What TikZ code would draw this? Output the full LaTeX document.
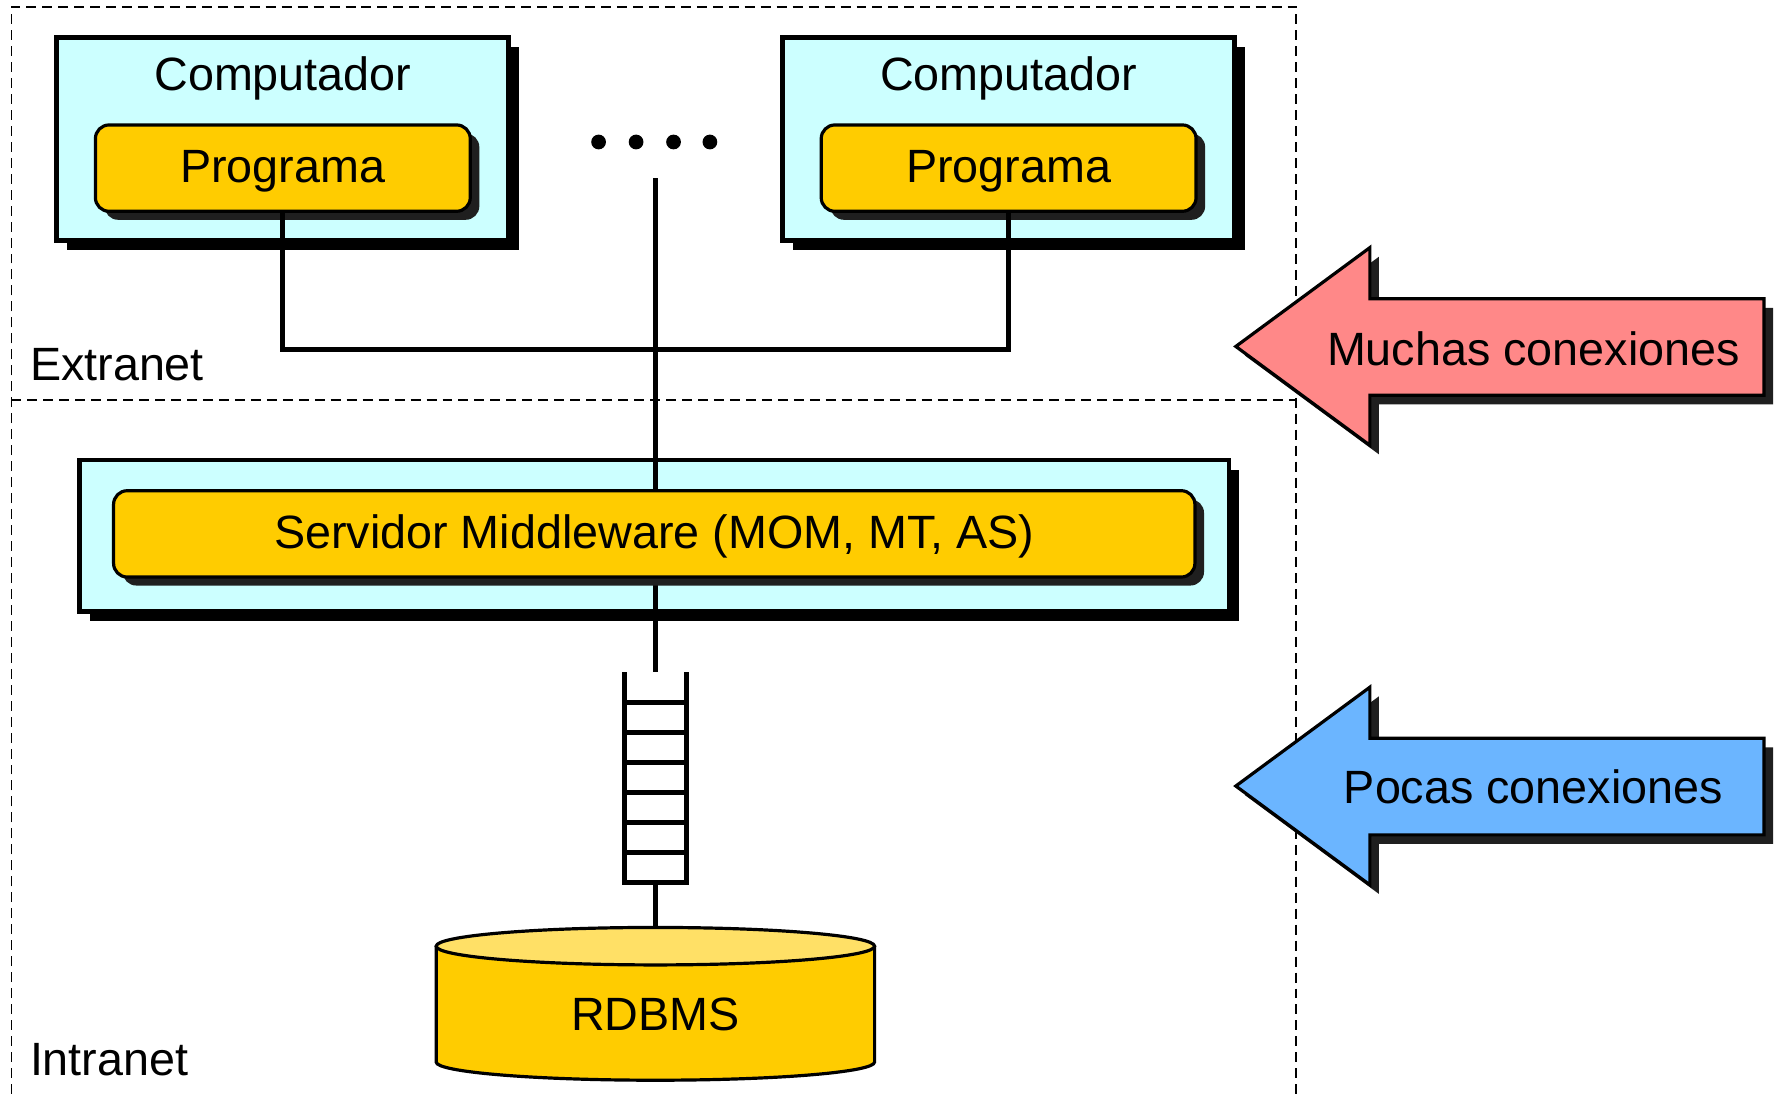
\documentclass[tikz,border=0pt]{standalone}
\usepackage{fontspec}
\setmainfont{Liberation Sans}
\usetikzlibrary{shadows}
\definecolor{boxcyan}{HTML}{CCFFFF}
\definecolor{progyellow}{HTML}{FFCC00}
\definecolor{toplight}{HTML}{FFE066}
\definecolor{arrowred}{HTML}{FF8888}
\definecolor{arrowblue}{HTML}{6BB5FF}

\begin{document}
\begin{tikzpicture}[line join=miter,
        font=\fontsize{11.7}{14}\selectfont,
        wire/.style={line width=1.25pt},
        zone/.style={line width=0.4pt, dash pattern=on 2.5pt off 1.5pt},
        captext/.style={text height=0.72em, text depth=0pt},
        compbox/.style={draw, line width=1.2pt, fill=boxcyan, minimum width=3.98cm, minimum height=1.79cm,
            drop shadow={shadow xshift=0.09cm, shadow yshift=-0.085cm, fill=black, opacity=1}},
        progbox/.style={draw, captext, line width=0.8pt, fill=progyellow, rounded corners=0.12cm,
            minimum width=3.30cm, minimum height=0.76cm,
            drop shadow={shadow xshift=0.08cm, shadow yshift=-0.075cm, fill=black!88, opacity=1}},
        fatarrow/.style={draw, line width=0.8pt,
            drop shadow={shadow xshift=0.08cm, shadow yshift=-0.08cm, fill=black!88, opacity=1}}]
    \useasboundingbox (0,0) rectangle (15.68,-9.63);

    % extranet / intranet zones
    \draw[zone] (0.10,-9.63) -- (0.10,-0.06) -- (11.41,-0.06) -- (11.41,-9.63);
    \draw[zone] (0.10,-3.52) -- (11.41,-3.52);
    \node[anchor=west] (extra) at (0.14,-3.21) {Extranet};
    \node[anchor=west] (intra) at (0.14,-9.33) {Intranet};

    % computers with their programs
    \node[compbox] (comp1) at (2.49,-1.225) {};
    \node[captext] (comp1txt) at (2.49,-0.67) {Computador};
    \node[progbox] (prog1) at (2.49,-1.48) {Programa};

    \node[compbox] (comp2) at (8.88,-1.225) {};
    \node[captext] (comp2txt) at (8.88,-0.67) {Computador};
    \node[progbox] (prog2) at (8.88,-1.48) {Programa};

    % more computers
    \foreach \x in {5.27,5.60,5.93,6.25}
        \fill (\x,-1.25) circle (0.065cm);

    % connections to the middleware
    \coordinate (bus) at (5.77,-3.08);
    \coordinate (trunk) at (5.77,-1.57);
    \coordinate (qtop) at (5.77,-5.92);
    \draw[wire] (prog1.south) -- (prog1.south |- bus) -- (prog2.south |- bus) -- (prog2.south);

    % middleware server
    \node[compbox, minimum width=10.12cm, minimum height=1.33cm] (mwbox) at (5.76,-4.715) {};
    \draw[wire] (trunk) -- (qtop);
    \node[progbox, minimum width=9.52cm] (mw) at (5.76,-4.70) {Servidor Middleware (MOM, MT, AS)};

    % queue
    \draw[wire] (5.50,-5.92) -- (5.50,-7.77) -- (6.04,-7.77) -- (6.04,-5.92);
    \foreach \i in {1,...,6}
        \draw[wire] (5.50,-5.92-0.264*\i) -- ++(0.54,0);
    \coordinate (qbot) at (5.77,-7.77);
    \coordinate (dbtop) at (5.77,-8.165);
    \draw[wire] (qbot) -- (dbtop);

    % database
    \filldraw[fill=progyellow, line width=0.8pt] (3.84,-8.33) -- (3.84,-9.35)
        arc[start angle=180, end angle=360, x radius=1.93cm, y radius=0.16cm] -- (7.70,-8.33);
    \filldraw[fill=toplight, line width=0.8pt] (5.77,-8.33) ellipse [x radius=1.93cm, y radius=0.165cm];
    \node (db) at (5.77,-8.93) {RDBMS};

    % many / few connections
    \filldraw[fatarrow, fill=arrowred] (10.88,-3.05) -- (12.06,-2.18) -- (12.06,-2.63) -- (15.53,-2.63)
        -- (15.53,-3.48) -- (12.06,-3.48) -- (12.06,-3.92) -- cycle;
    \node (many) at (13.50,-3.07) {Muchas conexiones};

    \filldraw[fatarrow, fill=arrowblue] (10.88,-6.92) -- (12.06,-6.05) -- (12.06,-6.50) -- (15.53,-6.50)
        -- (15.53,-7.35) -- (12.06,-7.35) -- (12.06,-7.79) -- cycle;
    \node (few) at (13.50,-6.93) {Pocas conexiones};

\end{tikzpicture}
\end{document}
